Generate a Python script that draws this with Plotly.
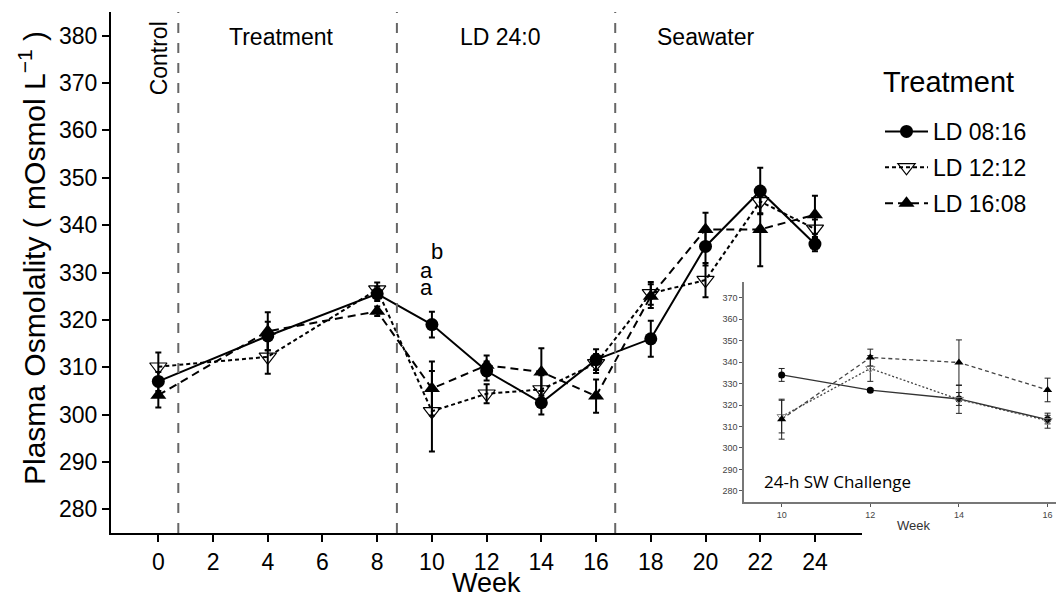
import plotly.graph_objects as go

# ---------------- data ----------------
weeks = [0, 4, 8, 10, 12, 14, 16, 18, 20, 22, 24]
ld0816 = [307.0, 316.6, 325.5, 319.0, 309.2, 302.5, 311.6, 316.0, 335.5, 347.2, 336.0]
ld0816_se = [2.0, 3.0, 1.5, 2.7, 2.0, 2.5, 2.2, 3.8, 4.0, 4.9, 1.5]
ld1212 = [310.1, 312.2, 326.4, 300.7, 304.4, 305.3, 310.8, 325.6, 328.4, 345.0, 339.2]
ld1212_se = [3.0, 3.6, 1.5, 8.5, 2.0, 3.0, 2.0, 2.4, 3.6, 2.5, 2.0]
ld1608 = [304.1, 317.6, 321.8, 305.5, 310.4, 309.0, 303.9, 325.0, 339.1, 339.1, 342.2]
ld1608_se = [2.6, 4.0, 1.0, 5.7, 2.1, 5.0, 3.5, 2.5, 3.5, 7.8, 4.0]

inset_weeks = [10, 12, 14, 16]
in0816 = [334.0, 326.9, 322.8, 313.2]
in0816_se = [3.0, 0.8, 3.0, 2.0]
in1212 = [314.6, 337.0, 322.6, 312.7]
in1212_se = [7.6, 6.0, 6.5, 3.5]
in1608 = [313.4, 342.1, 339.8, 327.0]
in1608_se = [9.3, 3.9, 10.5, 5.5]

series_names = ["LD 08:16", "LD 12:12", "LD 16:08"]
phase_breaks = [0.73, 8.72, 16.7]
phase_labels = ["Treatment", "LD 24:0", "Seawater"]
phase_label_x = [4.5, 12.5, 20.0]
letters = ["b", "a", "a"]
letters_x = [10.2, 9.81, 9.81]
letters_y = [334.5, 330.5, 326.8]
x_ticks = list(range(0, 25, 2))
y_ticks = list(range(280, 381, 10))
inset_y_ticks = list(range(280, 371, 10))

FONT = "Liberation Sans, Arial, sans-serif"

# plot-area geometry (pixels)
L, R, T, B = 111, 0, 12, 65
W_PLOT = 1056 - L - R
H_PLOT = 598 - T - B


def px(xp):
    return (xp - L) / W_PLOT


def py(yp):
    return (598 - B - yp) / H_PLOT


fig = go.Figure()

main_specs = [
    (ld0816, ld0816_se, dict(symbol="circle", size=13, color="black"), dict(color="black", width=2, dash="solid")),
    (ld1212, ld1212_se, dict(symbol="triangle-down-open", size=15, color="black", line=dict(width=1.2, color="black")),
     dict(color="black", width=2, dash="4px,3px")),
    (ld1608, ld1608_se, dict(symbol="triangle-up", size=14, color="black"), dict(color="black", width=2, dash="8px,5px")),
]
for i, (vals, se, mk, ln) in enumerate(main_specs):
    fig.add_trace(go.Scatter(
        x=weeks, y=vals, name=series_names[i], mode="lines+markers",
        marker=mk, line=ln, legendgroup=series_names[i],
        error_y=dict(type="data", array=se, visible=True, color="black", thickness=2, width=3),
        xaxis="x", yaxis="y", cliponaxis=False,
    ))

inset_specs = [
    (in0816, in0816_se, dict(symbol="circle", size=7, color="black"), dict(color="#333333", width=1.3, dash="solid")),
    (in1212, in1212_se, dict(symbol="triangle-down-open", size=8, color="#888888", line=dict(width=1, color="#888888")),
     dict(color="#444444", width=1.3, dash="2px,2px")),
    (in1608, in1608_se, dict(symbol="triangle-up", size=8, color="black"), dict(color="#444444", width=1.3, dash="4px,3px")),
]
for i, (vals, se, mk, ln) in enumerate(inset_specs):
    fig.add_trace(go.Scatter(
        x=inset_weeks, y=vals, name=series_names[i], mode="lines+markers",
        marker=mk, line=ln, showlegend=False,
        error_y=dict(type="data", array=se, visible=True, color="#222222", thickness=1, width=3),
        xaxis="x2", yaxis="y2",
    ))

shapes = []
for b in phase_breaks:
    shapes.append(dict(type="line", xref="x", yref="y domain", x0=b, x1=b, y0=0, y1=1,
                       line=dict(color="#666666", width=2, dash="10px,10px")))

annotations = []
for lab, lx in zip(phase_labels, phase_label_x):
    annotations.append(dict(text=lab, x=lx, y=379.8, xref="x", yref="y", showarrow=False,
                            font=dict(family=FONT, size=23, color="black")))
annotations.append(dict(text="Control", x=0.04, y=375.3, xref="x", yref="y", showarrow=False, textangle=-90,
                        font=dict(family=FONT, size=23, color="black")))
for t, lx, ly in zip(letters, letters_x, letters_y):
    annotations.append(dict(text=t, x=lx, y=ly, xref="x", yref="y", showarrow=False,
                            font=dict(family=FONT, size=22, color="black")))
annotations.append(dict(text="24-h SW Challenge", x=9.55, y=284.5, xref="x2", yref="y2", showarrow=False,
                        xanchor="left", font=dict(family="Open Sans, sans-serif", size=17, color="black")))
# axis titles
annotations.append(dict(text="Week", x=px(486), y=py(583), xref="paper", yref="paper", showarrow=False,
                        xanchor="center", yanchor="middle", font=dict(family=FONT, size=27, color="black")))
annotations.append(dict(text="Plasma Osmolality ( mOsmol L<sup>−1</sup> )", x=px(32), y=py(258),
                        xref="paper", yref="paper", showarrow=False, textangle=-90,
                        xanchor="center", yanchor="middle", font=dict(family=FONT, size=30, color="black")))
annotations.append(dict(text="Week", x=px(913), y=py(525), xref="paper", yref="paper", showarrow=False,
                        xanchor="center", yanchor="middle", font=dict(family=FONT, size=13, color="#333333")))
# legend title
annotations.append(dict(text="Treatment", x=px(881), y=py(82), xref="paper", yref="paper", showarrow=False,
                        xanchor="left", yanchor="middle", font=dict(family=FONT, size=29, color="black")))

fig.update_layout(
    width=1056, height=598,
    margin=dict(l=L, r=R, t=T, b=B, autoexpand=False),
    paper_bgcolor="white", plot_bgcolor="white",
    font=dict(family=FONT, color="black"),
    shapes=shapes, annotations=annotations,
    legend=dict(
        font=dict(size=23, family=FONT), x=px(880), y=py(110), xanchor="left", yanchor="top",
        itemwidth=43, tracegroupgap=3, bgcolor="rgba(0,0,0,0)",
    ),
    xaxis=dict(
        domain=[0, 751 / W_PLOT], range=[-1.73, 25.72], tickvals=x_ticks,
        ticks="outside", ticklen=7, tickwidth=1.5, tickcolor="black",
        showline=True, linewidth=2, linecolor="black", showgrid=False, zeroline=False,
        tickfont=dict(size=23, family=FONT, color="black"), automargin=False,
        anchor="y",
    ),
    yaxis=dict(
        range=[275, 385], tickvals=y_ticks,
        ticks="outside", ticklen=7, tickwidth=1.5, tickcolor="black",
        showline=True, linewidth=2, linecolor="black", showgrid=False, zeroline=False,
        tickfont=dict(size=23, family=FONT, color="black"), automargin=False,
        anchor="x",
    ),
    xaxis2=dict(
        domain=[px(744), 1.0], range=[9.15, 16.19], tickvals=[10, 12, 14, 16],
        ticks="outside", ticklen=3, tickwidth=1, tickcolor="#555555",
        showline=True, linewidth=1.5, linecolor="#777777", showgrid=False, zeroline=False,
        tickfont=dict(size=9, family=FONT, color="#444444"), automargin=False,
        anchor="y2",
    ),
    yaxis2=dict(
        domain=[py(502.3), py(281.7)], range=[274.7, 377.4], tickvals=inset_y_ticks,
        ticks="outside", ticklen=3, tickwidth=1, tickcolor="#555555",
        showline=True, linewidth=1.5, linecolor="#777777", showgrid=False, zeroline=False,
        tickfont=dict(size=9, family=FONT, color="#444444"), automargin=False,
        anchor="x2",
    ),
)

fig.write_html("out.html", config={"displayModeBar": False},
               post_script="document.body.style.margin='0';document.body.style.overflow='hidden';")
